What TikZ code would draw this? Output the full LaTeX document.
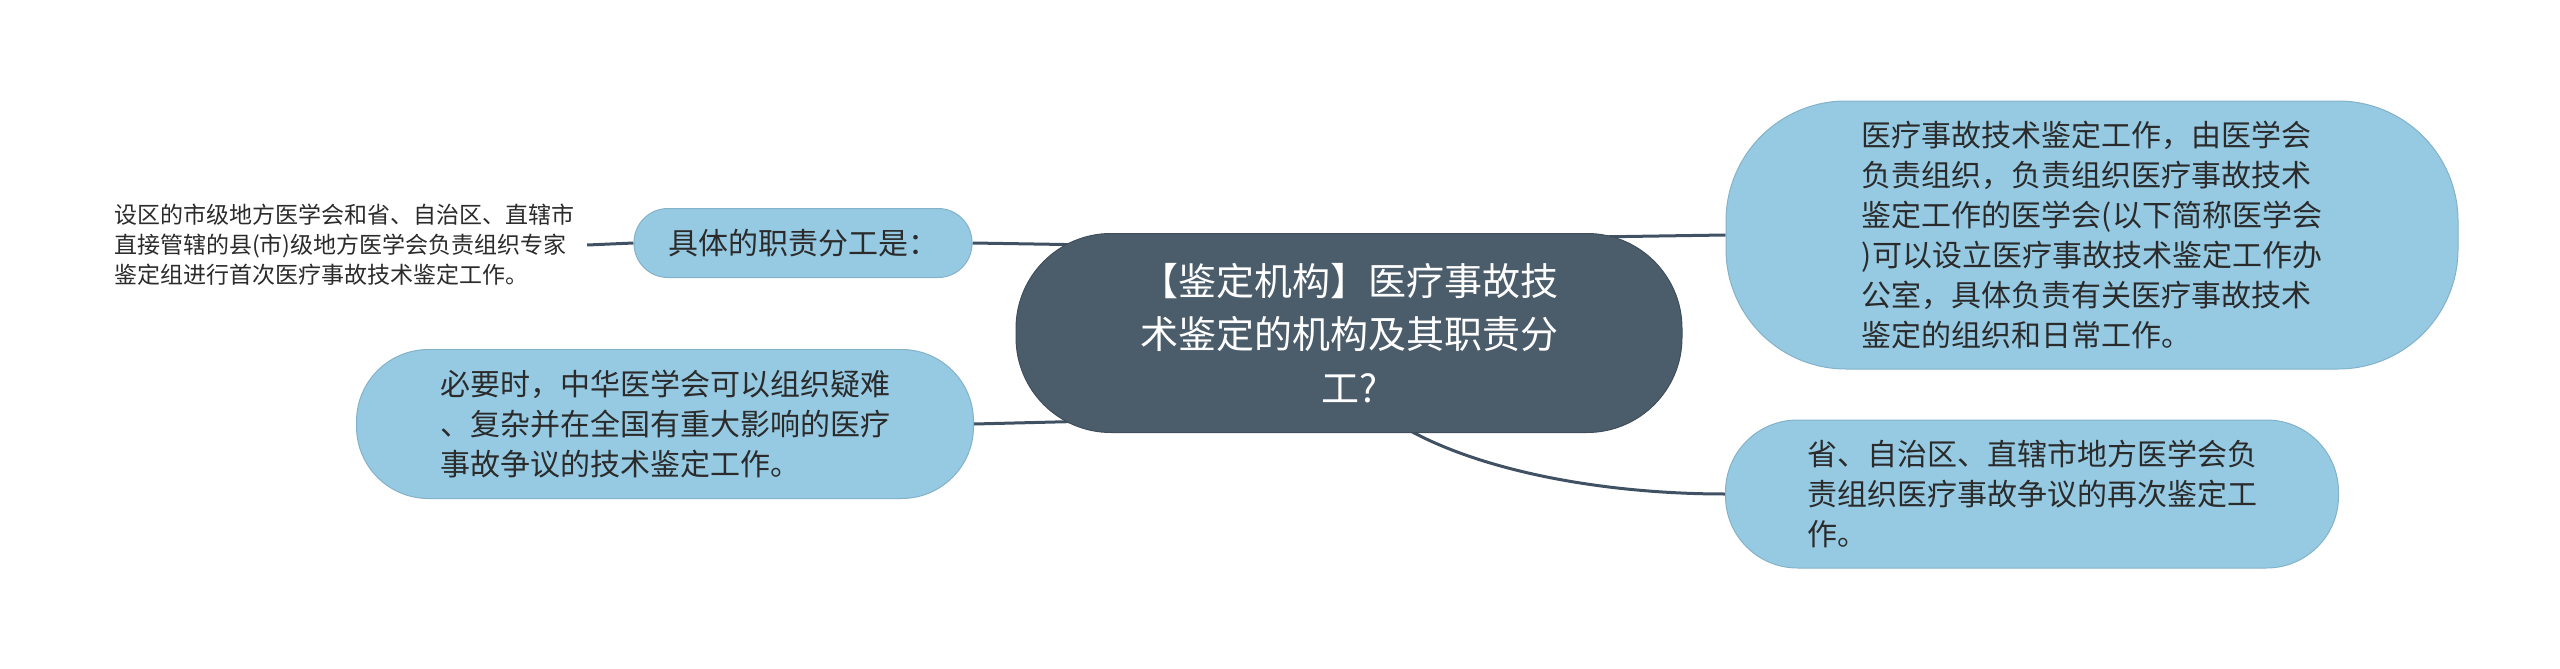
\documentclass[tikz,border=0pt]{standalone}
\usepackage{fontspec}
\setmainfont{Noto Sans CJK SC}
\usetikzlibrary{positioning, calc, backgrounds}

\definecolor{topicblue}{HTML}{96CAE3}
\definecolor{rootslate}{HTML}{4B5C6B}
\definecolor{linkslate}{HTML}{3F5163}
\definecolor{inkgrey}{HTML}{2B2B2B}

\tikzset{
  root/.style={fill=rootslate, draw=rootslate!85!black, line width=1pt, text=white,
    align=center, inner sep=0pt, font=\fontsize{38}{53.5}\selectfont},
  topic/.style={fill=topicblue, draw=topicblue!88!black, line width=1pt, text=inkgrey,
    align=left, inner sep=0pt, font=\fontsize{30}{40}\selectfont},
  leaf/.style={text=inkgrey, align=left, inner ysep=0pt, inner xsep=13pt,
    font=\fontsize{23}{30}\selectfont},
  link/.style={draw=linkslate, line width=3pt}
}

\begin{document}
\begin{tikzpicture}[x=1pt,y=-1pt]
\useasboundingbox (0,0) rectangle (2560,669);

\node[root, minimum width=666pt, minimum height=199pt, rounded corners=95pt] (root) at (1349,333)
  {【鉴定机构】医疗事故技\\术鉴定的机构及其职责分\\工?};

\node[topic, minimum width=338pt, minimum height=69pt, rounded corners=34pt] (duty) at (803,243)
  {具体的职责分工是：};
\node[topic, minimum width=617pt, minimum height=149pt, rounded corners=72pt] (need) at (665,424)
  {必要时，中华医学会可以组织疑难\\、复杂并在全国有重大影响的医疗\\事故争议的技术鉴定工作。};
\node[topic, minimum width=732pt, minimum height=268pt, rounded corners=120pt] (assoc) at (2092,235)
  {医疗事故技术鉴定工作，由医学会\\负责组织，负责组织医疗事故技术\\鉴定工作的医学会(以下简称医学会\\)可以设立医疗事故技术鉴定工作办\\公室，具体负责有关医疗事故技术\\鉴定的组织和日常工作。};
\node[topic, minimum width=613pt, minimum height=148pt, rounded corners=72pt] (again) at (2032,494)
  {省、自治区、直辖市地方医学会负\\责组织医疗事故争议的再次鉴定工\\作。};

\node[leaf] (first) at (344,245)
  {设区的市级地方医学会和省、自治区、直辖市\\直接管辖的县(市)级地方医学会负责组织专家\\鉴定组进行首次医疗事故技术鉴定工作。};

% connectors under the nodes
\begin{scope}[on background layer]
\draw[link] (duty.east) -- ([xshift=80pt,yshift=88pt]root.west);
\draw[link] (need.east) -- ([xshift=80pt,yshift=-88pt]root.west);
\draw[link] ([xshift=-90pt,yshift=96pt]root.east) -- (assoc.west);
\draw[link] ([xshift=51pt,yshift=8pt]root.south) .. controls +(75,45) and +(-125,0) .. (again.west);
\draw[link] (first.east) -- (duty.west);
\end{scope}
\end{tikzpicture}
\end{document}
